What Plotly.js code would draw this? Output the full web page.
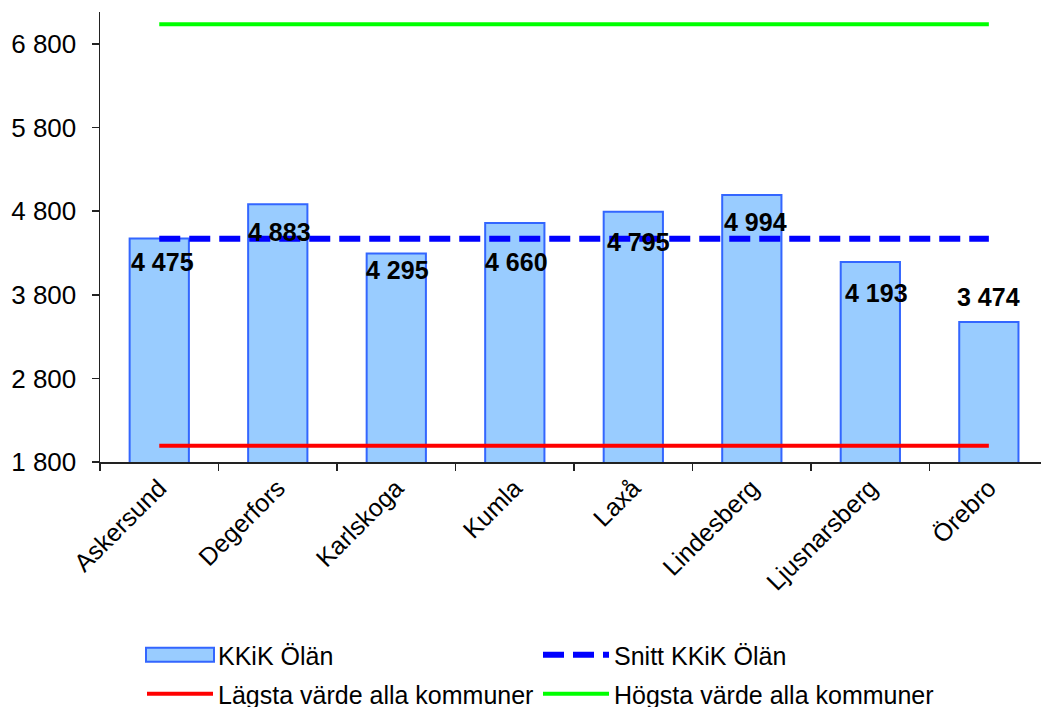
<!DOCTYPE html>
<html>
<head>
<meta charset="utf-8">
<script src="https://cdn.plot.ly/plotly-3.0.1.min.js"></script>
<style>html,body{margin:0;padding:0;background:#fff;overflow:hidden}#chart{width:1041px;height:707px}</style>
</head>
<body>
<div id="chart"></div>
<script>
var categories = ["Askersund","Degerfors","Karlskoga","Kumla","Laxå","Lindesberg","Ljusnarsberg","Örebro"];
var kkikValues = [4475, 4883, 4295, 4660, 4795, 4994, 4193, 3474];
var snittValue = 4471;
var lagstaValue = 1995;
var hogstaValue = 7036;
var yTicks = [1800, 2800, 3800, 4800, 5800, 6800];

// label offsets (style only)
var labelYShift = [-24, -28, -17, -39, -30, -27, -31, 25];
var labelXShift = [3, 2, 1, 2, 5, 4, 6, 0];

var FONT = "'Liberation Sans', Arial, sans-serif";
function fmt(v){ return String(v).replace(/\B(?=(\d{3})+(?!\d))/g, ' '); }

var ends = [categories[0], categories[categories.length-1]];

var traces = [
  {type:'bar', name:'KKiK Ölän', x:categories, y:kkikValues, width:0.5,
   marker:{color:'#99CCFF', line:{color:'#3366FF', width:2}}, legend:'legend', hoverinfo:'x+y'},
  {type:'scatter', mode:'lines', name:'Snitt KKiK Ölän', x:ends, y:[snittValue, snittValue],
   line:{color:'#0000FF', width:6, dash:'21px,9px'}, legend:'legend'},
  {type:'scatter', mode:'lines', name:'Lägsta värde alla kommuner', x:ends, y:[lagstaValue, lagstaValue],
   line:{color:'#FF0000', width:4}, legend:'legend2'},
  {type:'scatter', mode:'lines', name:'Högsta värde alla kommuner', x:ends, y:[hogstaValue, hogstaValue],
   line:{color:'#00FF00', width:4}, legend:'legend2'}
];

var annotations = categories.map(function(c, i){
  return {x:c, y:kkikValues[i], xref:'x', yref:'y', text:'<b>' + fmt(kkikValues[i]) + '</b>', showarrow:false,
          yshift:labelYShift[i], xshift:labelXShift[i], yanchor:'middle',
          font:{family:FONT, size:25, color:'#000'}};
});

var legendCommon = {orientation:'h', xref:'container', yref:'container', xanchor:'left', yanchor:'middle',
  font:{family:FONT, size:25, color:'#000'}, bgcolor:'rgba(0,0,0,0)', entrywidth:315, entrywidthmode:'pixels',
  itemwidth:66, traceorder:'normal'};

var layout = {
  width:1041, height:707,
  margin:{l:100, r:0, t:12, b:245, pad:0},
  paper_bgcolor:'#fff', plot_bgcolor:'#fff',
  font:{family:FONT, size:25, color:'#000'},
  showlegend:true,
  xaxis:{type:'category', range:[-0.5, 7.44], showgrid:false, zeroline:false,
    showline:true, linecolor:'#222', linewidth:1.5, ticks:'outside', ticklen:7, tickcolor:'#222', tickwidth:1.5,
    tickson:'boundaries', tickangle:-45, tickfont:{family:FONT, size:25, color:'#000'}, fixedrange:true},
  yaxis:{range:[1800, 7183], tickvals:yTicks, ticktext:yTicks.map(fmt), showgrid:false, zeroline:false,
    showline:true, linecolor:'#222', linewidth:1.5, ticks:'outside', ticklen:7, tickcolor:'#222', tickwidth:1.5,
    ticklabelstandoff:10, tickfont:{family:FONT, size:26, color:'#000'}, fixedrange:true},
  legend:Object.assign({}, legendCommon, {x:142/1041, y:1-655/707}),
  legend2:Object.assign({}, legendCommon, {x:142/1041, y:1-694/707}),
  annotations:annotations
};

function fixSwatch(){
  var paths = document.querySelectorAll('#chart g.legendpoints path');
  paths.forEach(function(p){
    var fill = (p.style.fill || p.getAttribute('fill') || '').replace(/\s/g,'');
    if (fill === 'rgb(153,204,255)' || fill.toLowerCase() === '#99ccff') {
      p.setAttribute('d', 'M34,7H-34V-7H34Z');
    }
  });
}

Plotly.newPlot('chart', traces, layout, {displayModeBar:false, staticPlot:true}).then(function(gd){
  fixSwatch();
  setTimeout(fixSwatch, 0);
  setTimeout(fixSwatch, 200);
  gd.on('plotly_afterplot', fixSwatch);
});
</script>
</body>
</html>
